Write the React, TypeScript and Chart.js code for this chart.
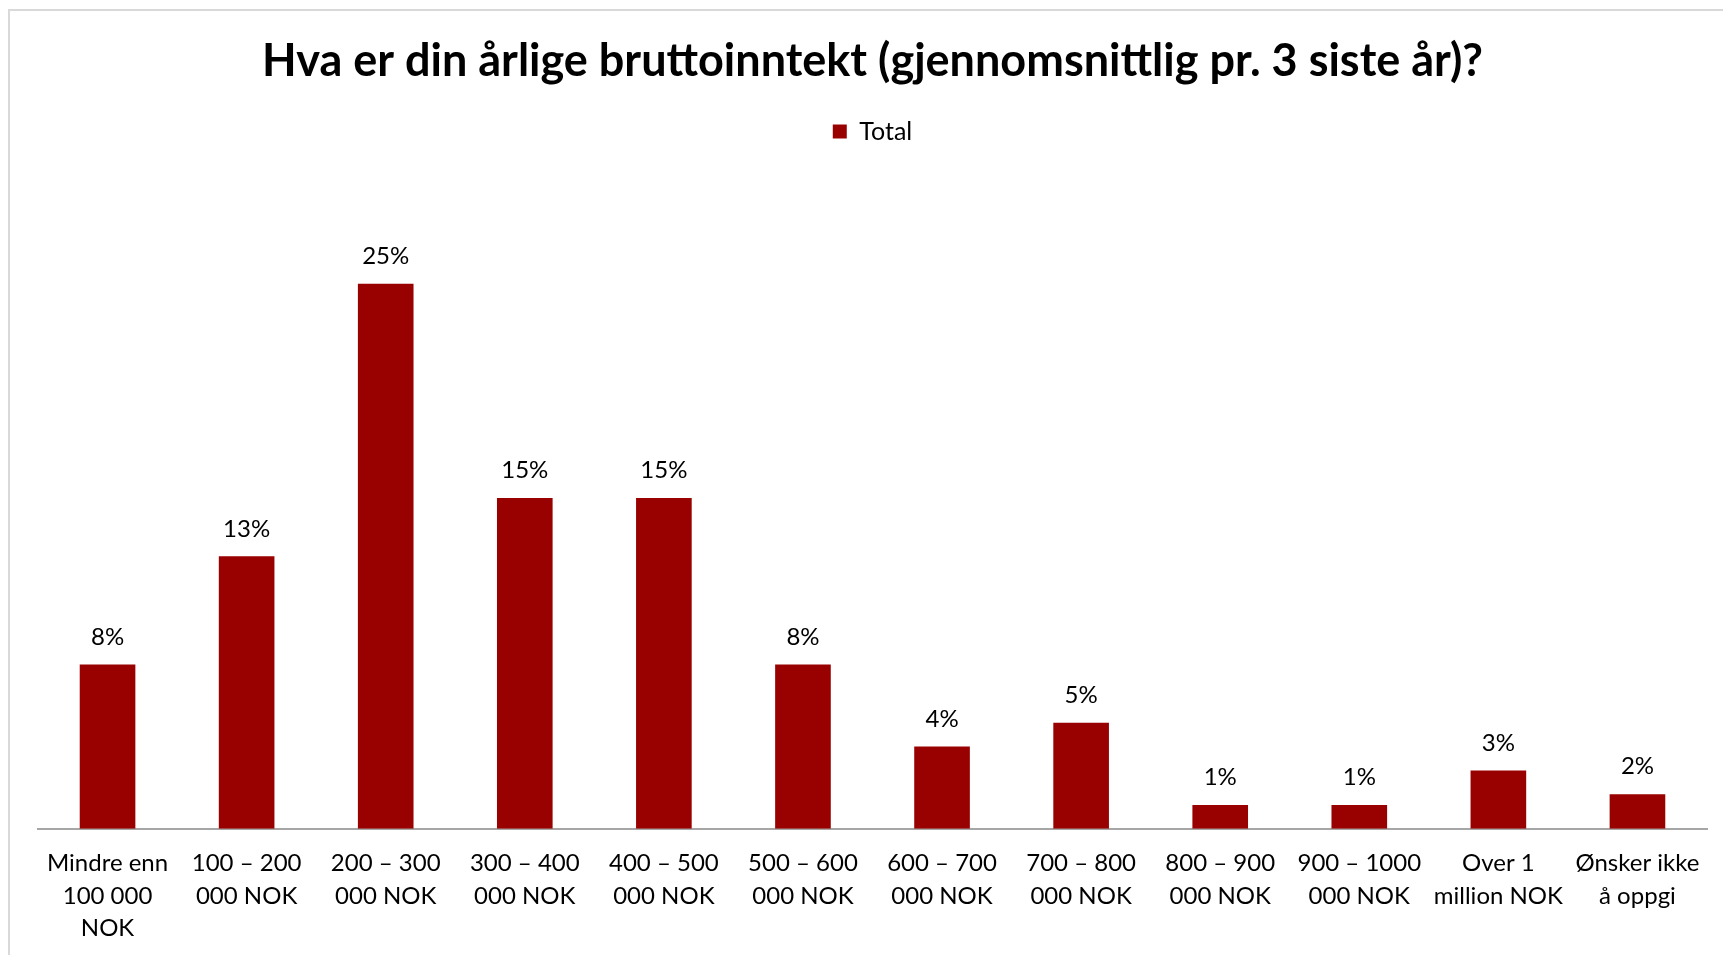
import React, { useEffect, useRef } from "react";
import { Chart, registerables } from "chart.js";

Chart.register(...registerables);

const TITLE = "Hva er din årlige bruttoinntekt (gjennomsnittlig pr. 3 siste år)?";
const SERIES_NAME = "Total";

const categories: string[][] = [
  ["Mindre enn", "100 000", "NOK"],
  ["100 – 200", "000 NOK"],
  ["200 – 300", "000 NOK"],
  ["300 – 400", "000 NOK"],
  ["400 – 500", "000 NOK"],
  ["500 – 600", "000 NOK"],
  ["600 – 700", "000 NOK"],
  ["700 – 800", "000 NOK"],
  ["800 – 900", "000 NOK"],
  ["900 – 1000", "000 NOK"],
  ["Over 1", "million NOK"],
  ["Ønsker ikke", "å oppgi"],
];

const totalValues: number[] = [7.6, 12.6, 25.2, 15.3, 15.3, 7.6, 3.8, 4.9, 1.1, 1.1, 2.7, 1.6];

const Y_MAX = 31.2;

const BAR_COLOR = "#990000";
const FONT = "Lato";

const dataLabelPlugin = {
  id: "barValueLabels",
  afterDatasetsDraw(chart: any) {
    const ctx = chart.ctx;
    const meta = chart.getDatasetMeta(0);
    const ds = chart.data.datasets[0];
    ctx.save();
    ctx.font = `24px ${FONT}`;
    ctx.fillStyle = "#000";
    ctx.textAlign = "center";
    ctx.textBaseline = "middle";
    meta.data.forEach((bar: any, i: number) => {
      const v = ds.data[i] as number;
      ctx.fillText(`${Math.round(v)}%`, bar.x, bar.y - 27.5);
    });
    ctx.restore();
  },
};

export default function App() {
  const ref = useRef<HTMLCanvasElement | null>(null);

  useEffect(() => {
    document.documentElement.style.overflow = "hidden";
    const canvas = ref.current;
    if (!canvas) return;
    const chart = new Chart(canvas, {
      type: "bar",
      data: {
        labels: categories,
        datasets: [
          {
            label: SERIES_NAME,
            data: totalValues,
            backgroundColor: BAR_COLOR,
            borderWidth: 0,
            categoryPercentage: 1,
            barPercentage: 0.4,
          },
        ],
      },
      options: {
        responsive: false,
        animation: false,
        devicePixelRatio: 1,
        layout: { padding: { left: 38, right: 16, top: 0, bottom: 0 } },
        plugins: {
          title: {
            display: true,
            text: TITLE,
            color: "#000",
            font: { family: FONT, size: 45, weight: "bold", lineHeight: 1.2 },
            padding: { top: 34.5, bottom: 4.5 },
          },
          legend: {
            display: true,
            position: "top",
            labels: {
              color: "#000",
              font: { family: FONT, size: 25 },
              boxWidth: 14,
              boxHeight: 14,
              padding: 26,
            },
          },
          tooltip: { enabled: false },
        },
        scales: {
          x: {
            grid: { display: false, drawTicks: false },
            border: { display: true, color: "#a6a6a6", width: 2 },
            ticks: {
              color: "#000",
              font: { family: FONT, size: 24, lineHeight: 1.35 },
              padding: 18.5,
              maxRotation: 0,
              autoSkip: false,
            },
            afterFit(scale: any) {
              scale.height = scale.height - 8;
            },
          },
          y: {
            display: false,
            min: 0,
            max: Y_MAX,
          },
        },
      },
      plugins: [dataLabelPlugin],
    });
    return () => chart.destroy();
  }, []);

  return (
    <>
      <div
        style={{
          position: "fixed",
          left: 8,
          top: 9,
          right: 0,
          bottom: 0,
          borderTop: "2px solid #d9d9d9",
          borderLeft: "2px solid #d9d9d9",
        }}
      />
      <canvas
        ref={ref}
        width={1723}
        height={955}
        style={{ position: "fixed", left: 0, top: 0, width: 1723, height: 955 }}
      />
    </>
  );
}
